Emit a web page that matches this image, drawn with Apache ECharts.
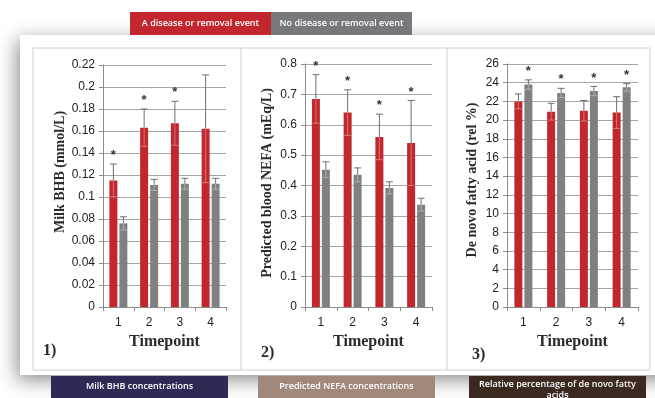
<!DOCTYPE html>
<html><head><meta charset="utf-8">
<script src="https://cdn.jsdelivr.net/npm/echarts@6/dist/echarts.min.js"></script>
<style>html,body{margin:0;padding:0;background:#fff}#c{width:655px;height:398px}</style>
</head><body><div id="c"></div>
<script>
const categories = ['1', '2', '3', '4'];
const seriesNames = ['A disease or removal event', 'No disease or removal event'];

const bhbDisease = [0.115, 0.163, 0.167, 0.162];
const bhbDiseaseErr = [0.015, 0.017, 0.020, 0.049];
const bhbNo = [0.076, 0.111, 0.112, 0.112];
const bhbNoErr = [0.006, 0.005, 0.005, 0.005];
const bhbStarDisease = [1, 1, 1, 0];
const bhbStarNo = [0, 0, 0, 0];

const nefaDisease = [0.685, 0.640, 0.560, 0.540];
const nefaDiseaseErr = [0.080, 0.075, 0.075, 0.140];
const nefaNo = [0.452, 0.435, 0.392, 0.337];
const nefaNoErr = [0.026, 0.023, 0.020, 0.021];
const nefaStarDisease = [1, 1, 1, 1];
const nefaStarNo = [0, 0, 0, 0];

const dnDisease = [22.0, 20.9, 21.0, 20.8];
const dnDiseaseErr = [0.8, 0.9, 1.1, 1.7];
const dnNo = [23.8, 22.9, 23.1, 23.5];
const dnNoErr = [0.5, 0.5, 0.5, 0.4];
const dnStarDisease = [0, 0, 0, 0];
const dnStarNo = [1, 1, 1, 1];

const yTitles = ['Milk BHB (mmol/L)', 'Predicted blood NEFA (mEq/L)', 'De novo fatty acid (rel %)'];
const panelTags = ['1)', '2)', '3)'];
const captions = ['Milk BHB concentrations', 'Predicted NEFA concentrations', 'Relative percentage of de novo fatty\nacids'];
const yMax = [0.22, 0.8, 26];
const yStep = [0.02, 0.1, 2];

const RED = '#c1272d', GRAY = '#808080';
const grids = [
  {left: 103, top: 65, width: 123, height: 242},
  {left: 305, top: 64, width: 127, height: 243},
  {left: 507, top: 64, width: 131, height: 243}
];
const panels = [
  [bhbDisease, bhbDiseaseErr, bhbStarDisease, bhbNo, bhbNoErr, bhbStarNo],
  [nefaDisease, nefaDiseaseErr, nefaStarDisease, nefaNo, nefaNoErr, nefaStarNo],
  [dnDisease, dnDiseaseErr, dnStarDisease, dnNo, dnNoErr, dnStarNo]
];

const BW = 8, OFF = 5;
function errSeries(gi, vals, errs, stars, offset) {
  return {
    type: 'custom', xAxisIndex: gi, yAxisIndex: gi, z: 5,
    data: vals.map((v, i) => [i, v, errs[i], stars[i]]),
    renderItem: function (params, api) {
      const c = api.coord([api.value(0), api.value(1)]);
      const hi = api.coord([api.value(0), api.value(1) + api.value(2)]);
      const lo = api.coord([api.value(0), api.value(1) - api.value(2)]);
      const x = c[0] + offset;
      const kids = [
        {type: 'line', shape: {x1: x, y1: c[1], x2: x, y2: hi[1]}, style: {stroke: '#6e6e6e', lineWidth: 1}},
        {type: 'line', shape: {x1: x - 3.5, y1: hi[1], x2: x + 3.5, y2: hi[1]}, style: {stroke: '#6e6e6e', lineWidth: 1}},
        {type: 'line', shape: {x1: x, y1: c[1], x2: x, y2: lo[1]}, style: {stroke: 'rgba(255,255,255,0.35)', lineWidth: 1}},
        {type: 'line', shape: {x1: x - 3.5, y1: lo[1], x2: x + 3.5, y2: lo[1]}, style: {stroke: 'rgba(255,255,255,0.35)', lineWidth: 1}}
      ];
      if (api.value(3)) {
        kids.push({type: 'text', style: {text: '*', x: x, y: hi[1] - 2, fill: '#333', font: 'bold 13px "Liberation Sans"', align: 'center', verticalAlign: 'bottom'}});
      }
      return {type: 'group', children: kids};
    }
  };
}

const option = {
  animation: false,
  grid: grids,
  xAxis: grids.map((g, i) => ({
    type: 'category', gridIndex: i, data: categories,
    axisLine: {lineStyle: {color: '#8c8c8c'}},
    axisTick: {show: true, length: 4, lineStyle: {color: '#8c8c8c'}},
    axisLabel: {color: '#222', fontFamily: 'Liberation Sans', fontSize: 12, margin: 10},
    name: 'Timepoint', nameLocation: 'middle', nameGap: 27,
    nameTextStyle: {fontFamily: 'Liberation Serif', fontWeight: 'bold', fontSize: 16, color: '#2a2a2a'}
  })),
  yAxis: grids.map((g, i) => ({
    type: 'value', gridIndex: i, min: 0, max: yMax[i], interval: yStep[i],
    axisLine: {show: true, lineStyle: {color: '#8c8c8c'}},
    axisTick: {show: true, length: 4, lineStyle: {color: '#8c8c8c'}},
    splitLine: {lineStyle: {color: '#a6a6a6'}},
    axisLabel: {color: '#222', fontFamily: 'Liberation Sans', fontSize: 12, margin: 8,
      formatter: v => String(+v.toFixed(2))}
  })),
  series: []
};
panels.forEach((p, gi) => {
  option.series.push({type: 'bar', name: seriesNames[0], xAxisIndex: gi, yAxisIndex: gi, data: p[0], barWidth: BW, barGap: '25%', itemStyle: {color: RED}});
  option.series.push({type: 'bar', name: seriesNames[1], xAxisIndex: gi, yAxisIndex: gi, data: p[3], barWidth: BW, barGap: '25%', itemStyle: {color: GRAY}});
  option.series.push(errSeries(gi, p[0], p[1], p[2], -OFF));
  option.series.push(errSeries(gi, p[3], p[4], p[5], OFF));
});

const yTitlePos = [[60, 172], [267, 183], [472, 180]];
const tagPos = [[43, 351], [261, 353], [472, 355]];
const capBoxes = [[51, '#2c2b55'], [258, '#a2877b'], [469, '#3b2a21']];

const graphic = [
  {type: 'rect', z: -10, shape: {x: 20, y: 35, width: 660, height: 340}, style: {fill: '#fff', shadowBlur: 18, shadowColor: 'rgba(0,0,0,0.45)', shadowOffsetY: 5, shadowOffsetX: -3}},
  {type: 'rect', z: -9, shape: {x: 33, y: 48, width: 617, height: 322}, style: {fill: '#fff', stroke: '#d0d0d0', lineWidth: 1}},
  {type: 'line', z: -9, shape: {x1: 241, y1: 48, x2: 241, y2: 370}, style: {stroke: '#d0d0d0', lineWidth: 1}},
  {type: 'line', z: -9, shape: {x1: 447, y1: 48, x2: 447, y2: 370}, style: {stroke: '#d0d0d0', lineWidth: 1}},
  {type: 'rect', shape: {x: 130, y: 12, width: 141, height: 23}, style: {fill: RED}},
  {type: 'rect', shape: {x: 271, y: 12, width: 141, height: 23}, style: {fill: '#77787b'}},
  {type: 'text', style: {text: seriesNames[0], x: 200.5, y: 23.5, fill: '#fff', font: '600 9px "Open Sans"', align: 'center', verticalAlign: 'middle'}},
  {type: 'text', style: {text: seriesNames[1], x: 341.5, y: 23.5, fill: '#fff', font: '600 9px "Open Sans"', align: 'center', verticalAlign: 'middle'}}
];
yTitles.forEach((t, i) => {
  graphic.push({type: 'text', x: yTitlePos[i][0], y: yTitlePos[i][1], rotation: Math.PI / 2,
    style: {text: t, x: 0, y: 0, fill: '#2a2a2a', font: 'bold 14px "Liberation Serif"', align: 'center', verticalAlign: 'middle'}});
  graphic.push({type: 'text', style: {text: panelTags[i], x: tagPos[i][0], y: tagPos[i][1], fill: '#2a2a2a', font: 'bold 16px "Liberation Serif"', align: 'left', verticalAlign: 'middle'}});
  graphic.push({type: 'rect', shape: {x: capBoxes[i][0], y: 376, width: 177, height: 24}, style: {fill: capBoxes[i][1]}});
  graphic.push({type: 'text', style: {text: captions[i], x: capBoxes[i][0] + 88.5, y: i === 2 ? 379 : 381, fill: '#fff', font: '600 9px "Open Sans"', align: 'center', verticalAlign: 'top', lineHeight: 11}});
});
option.graphic = graphic;

const chart = echarts.init(document.getElementById('c'), null, {renderer: 'canvas'});
chart.setOption(option);
</script></body></html>
